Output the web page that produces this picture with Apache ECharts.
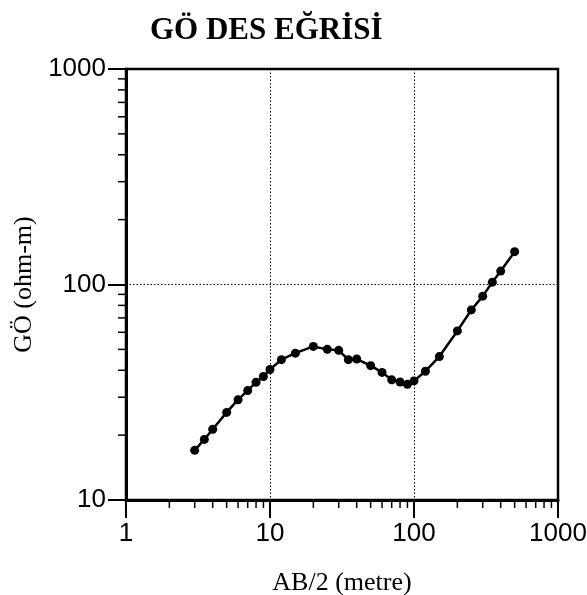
<!DOCTYPE html>
<html><head><meta charset="utf-8">
<script src="https://cdn.jsdelivr.net/npm/echarts@6/dist/echarts.min.js"></script>
<style>html,body{margin:0;padding:0;background:#fff}#c{width:587px;height:595px}</style>
</head><body><div id="c"></div>
<script>
const titleText = 'GÖ DES EĞRİSİ';
const xName = 'AB/2 (metre)';
const yName = 'GÖ (ohm-m)';
const abHalf = [3,3.5,4,5,6,7,8,9,10,12,15,20,25,30,35,40,50,60,70,80,90,100,120,150,200,250,300,350,400,500];
const resistivity = [17,19.1,21.3,25.5,29.2,32.2,35.2,37.4,40.3,44.8,48,51.6,50,49.5,44.8,45.1,42,39.1,36.1,35.3,34.4,35.7,39.6,46.3,60.9,76.2,88.3,102.5,115.4,142];
const xMinorTicks = [2,3,4,5,6,7,8,9,20,30,40,50,60,70,80,90,200,300,400,500,600,700,800,900];
const yMinorTicks = [20,30,40,50,60,70,80,90,200,300,400,500,600,700,800,900];

const chart = echarts.init(document.getElementById('c'), null, {renderer:'canvas'});
const sans = 'Liberation Sans, Arial, sans-serif';
const serif = 'Liberation Serif, Times New Roman, serif';
const axisCommon = {
  type: 'log', logBase: 10,
  nameLocation: 'middle',
  nameTextStyle: {fontFamily: serif, fontSize: 26, color: '#000'},
  axisLine: {show: true, onZero: false, lineStyle: {color: '#000', width: 3}},
  axisTick: {show: true, inside: false, length: 18, lineStyle: {color: '#000', width: 2}},
  axisLabel: {fontFamily: sans, fontSize: 26, color: '#000', formatter: v => String(Math.round(v))},
  splitLine: {show: true, lineStyle: {color: '#000', width: 1, type: [1.5, 2]}},
  minorTick: {show: false}
};
chart.setOption({
  animation: false,
  title: {text: titleText, left: 145, top: 10,
    textStyle: {fontFamily: serif, fontSize: 31, fontWeight: 'bold', color: '#000'}},
  grid: {left: 126, right: 29, top: 69, bottom: 95, show: true, borderColor: '#000', borderWidth: 2.5, containLabel: false, outerBoundsMode: 'none'},
  xAxis: Object.assign({}, axisCommon, {min: 1, max: 1000, name: xName, nameGap: 70,
    axisLabel: Object.assign({}, axisCommon.axisLabel, {margin: 21})}),
  yAxis: Object.assign({}, axisCommon, {min: 10, max: 1000, name: yName, nameGap: 87,
    axisLabel: Object.assign({}, axisCommon.axisLabel, {margin: 20})}),
  series: [{
    type: 'line', data: abHalf.map((v,i)=>[v, resistivity[i]]),
    symbol: 'circle', symbolSize: 9, showSymbol: true,
    itemStyle: {color: '#000'}, lineStyle: {color: '#000', width: 2.5}
  }]
});
const g = [];
const xb = chart.convertToPixel({yAxisIndex:0}, 10);
const xl = chart.convertToPixel({xAxisIndex:0}, 1);
xMinorTicks.forEach(v=>{
  const px = chart.convertToPixel({xAxisIndex:0}, v);
  g.push({type:'line', shape:{x1:px, y1:xb, x2:px, y2:xb+8}, style:{stroke:'#000', lineWidth:1.5}});
});
yMinorTicks.forEach(v=>{
  const py = chart.convertToPixel({yAxisIndex:0}, v);
  g.push({type:'line', shape:{x1:xl-8, y1:py, x2:xl, y2:py}, style:{stroke:'#000', lineWidth:1.5}});
});
chart.setOption({graphic: g});
</script></body></html>
